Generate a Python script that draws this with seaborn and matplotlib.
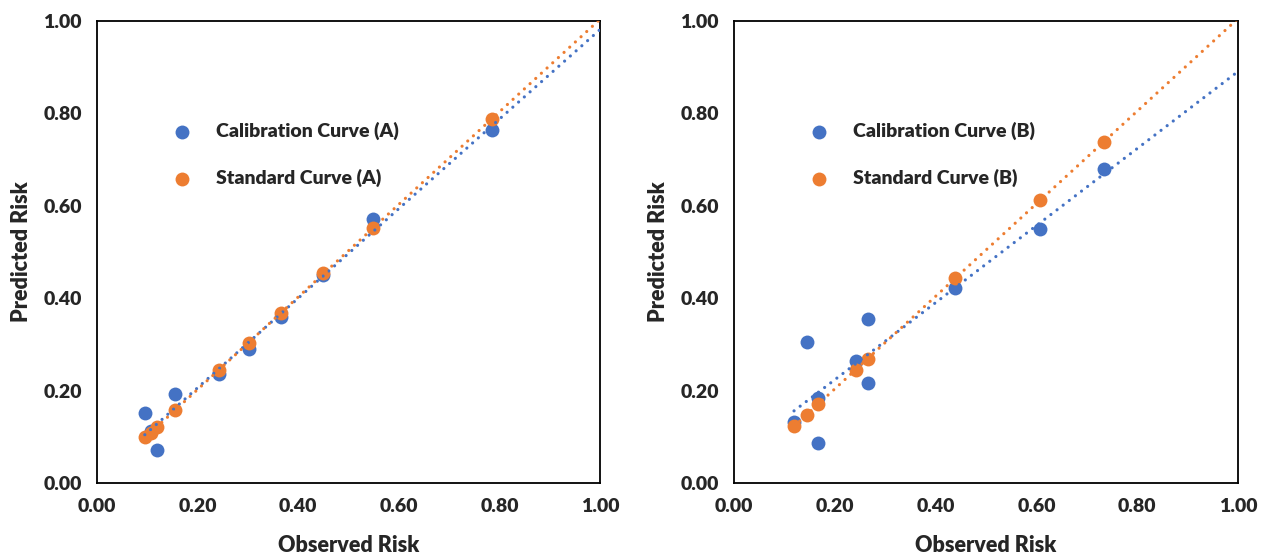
import numpy as np
import pandas as pd
import seaborn as sns
import matplotlib.pyplot as plt
from matplotlib.ticker import FormatStrFormatter

# data
cal_a_x = [0.095, 0.107, 0.120, 0.156, 0.242, 0.303, 0.366, 0.449, 0.548, 0.785]
cal_a_y = [0.151, 0.112, 0.071, 0.193, 0.235, 0.289, 0.360, 0.451, 0.571, 0.763]
std_a_x = [0.095, 0.107, 0.120, 0.156, 0.242, 0.303, 0.366, 0.449, 0.548, 0.785]
std_a_y = [0.099, 0.108, 0.121, 0.159, 0.245, 0.304, 0.367, 0.454, 0.551, 0.788]

cal_b_x = [0.119, 0.144, 0.167, 0.167, 0.241, 0.265, 0.265, 0.438, 0.608, 0.735]
cal_b_y = [0.133, 0.306, 0.183, 0.086, 0.263, 0.354, 0.216, 0.423, 0.550, 0.680]
std_b_x = [0.119, 0.144, 0.167, 0.241, 0.265, 0.438, 0.608, 0.735]
std_b_y = [0.123, 0.147, 0.171, 0.245, 0.268, 0.443, 0.613, 0.739]

ticks = [0.0, 0.2, 0.4, 0.6, 0.8, 1.0]
BLUE = '#4472C4'
ORANGE = '#ED7D31'

sns.set_style('white')
plt.rcParams['font.family'] = ['Lato', 'DejaVu Sans']
plt.rcParams['font.weight'] = 'bold'

fig = plt.figure(figsize=(12.63, 5.59), dpi=100)
ax1 = fig.add_axes([0.0768, 0.136, 0.3983, 0.8265])
ax2 = fig.add_axes([0.5812, 0.136, 0.3990, 0.8265])


def panel(ax, cx, cy, sx, sy, tag):
    sns.scatterplot(x=cx, y=cy, ax=ax, color=BLUE, s=100, linewidth=0,
                    label=f'Calibration Curve ({tag})', zorder=3)
    sns.scatterplot(x=sx, y=sy, ax=ax, color=ORANGE, s=100, linewidth=0,
                    label=f'Standard Curve ({tag})', zorder=4)
    # linear trendlines, forecast forward to 1.0
    for xs, ys, c in [(cx, cy, BLUE), (sx, sy, ORANGE)]:
        k, b = np.polyfit(xs, ys, 1)
        lx = np.array([min(xs), 1.0])
        ax.plot(lx, k * lx + b, color=c, lw=2.3, linestyle=(0, (0.01, 2.4)),
                dash_capstyle='round', zorder=5)
    ax.set_xlim(0, 1)
    ax.set_ylim(0, 1)
    ax.set_xticks(ticks)
    ax.set_yticks(ticks)
    ax.xaxis.set_major_formatter(FormatStrFormatter('%.2f'))
    ax.yaxis.set_major_formatter(FormatStrFormatter('%.2f'))
    ax.tick_params(length=0, labelsize=14)
    ax.tick_params(axis='x', pad=11)
    ax.tick_params(axis='y', pad=11)
    for t in ax.get_xticklabels() + ax.get_yticklabels():
        t.set_fontweight('heavy')
    for sp in ax.spines.values():
        sp.set_visible(True)
        sp.set_color('black')
        sp.set_linewidth(1.3)
    ax.set_xlabel('Observed Risk', fontsize=15.5, fontweight='heavy', labelpad=14)
    ax.set_ylabel('Predicted Risk', fontsize=15.5, fontweight='heavy', labelpad=8)
    ax.legend(loc='upper left', bbox_to_anchor=(0.095, 0.82), frameon=False,
              prop={'size': 14, 'weight': 'heavy'}, labelspacing=1.5,
              handletextpad=0.75, markerscale=1.0)


panel(ax1, cal_a_x, cal_a_y, std_a_x, std_a_y, 'A')
panel(ax2, cal_b_x, cal_b_y, std_b_x, std_b_y, 'B')

plt.savefig('out.png', dpi=100)
